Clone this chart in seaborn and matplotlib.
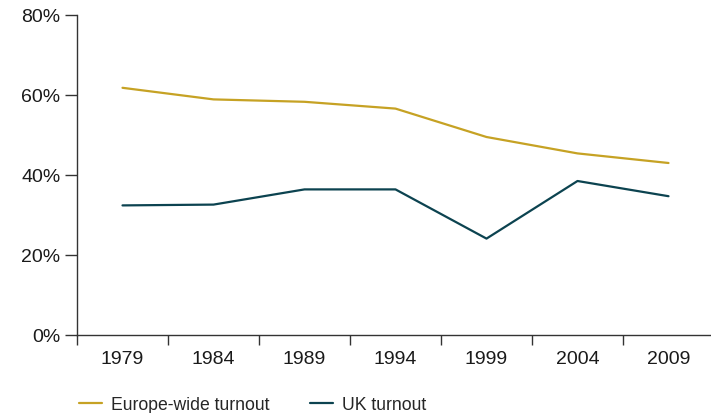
import matplotlib
matplotlib.use("Agg")
import matplotlib.pyplot as plt
import seaborn as sns
import pandas as pd
from matplotlib.ticker import FuncFormatter

# election years and turnout (%)
years = ["1979", "1984", "1989", "1994", "1999", "2004", "2009"]
europe_turnout = [61.8, 58.9, 58.3, 56.6, 49.5, 45.4, 43.0]
uk_turnout = [32.4, 32.6, 36.4, 36.4, 24.1, 38.5, 34.7]
series_names = ["Europe-wide turnout", "UK turnout"]

df = pd.DataFrame({
    "Year": years * 2,
    "Turnout": europe_turnout + uk_turnout,
    "Series": [series_names[0]] * len(years) + [series_names[1]] * len(years),
})

sns.set_style("ticks")
plt.rcParams['font.family'] = ['Liberation Sans', 'DejaVu Sans']

fig = plt.figure(figsize=(7.11, 4.14), dpi=100)
ax = fig.add_axes([77 / 711, 78 / 414, 637 / 711, 320 / 414])

palette = {series_names[0]: "#c6a224", series_names[1]: "#0c4350"}
sns.lineplot(data=df, x="Year", y="Turnout", hue="Series", palette=palette,
             linewidth=1.6, ax=ax, legend=False, sort=False)

ax.set_xlim(-0.5, len(years) - 0.5)
ax.set_ylim(0, 80)
ax.set_yticks([0, 20, 40, 60, 80])
ax.yaxis.set_major_formatter(FuncFormatter(lambda v, _: f"{int(v)}%"))

# ticks between categories, labels at category centres
ax.set_xticks([i - 0.5 for i in range(len(years) + 1)], labels=[""] * (len(years) + 1))
ax.set_xticks(range(len(years)), labels=years, minor=True)
ax.tick_params(axis="x", which="major", length=7, width=1, color="#333333")
ax.tick_params(axis="x", which="minor", length=0, pad=11, labelsize=14, labelcolor="#1a1a1a")
ax.tick_params(axis="y", length=9, width=1, color="#333333", pad=3, labelsize=14, labelcolor="#1a1a1a")

ax.set_xlabel("")
ax.set_ylabel("")
sns.despine(ax=ax)
for side in ["left", "bottom"]:
    ax.spines[side].set_color("#333333")
    ax.spines[side].set_linewidth(1)

handles = [plt.Line2D([], [], color=palette[n], linewidth=1.6) for n in series_names]
fig.legend(handles, series_names, loc="center left", bbox_to_anchor=(79 / 711, 1 - 406 / 414),
           ncol=2, frameon=False, fontsize=12.7, handlelength=1.3, handletextpad=0.5,
           columnspacing=2.3, borderpad=0, borderaxespad=0)

fig.savefig("out.png", dpi=100)
